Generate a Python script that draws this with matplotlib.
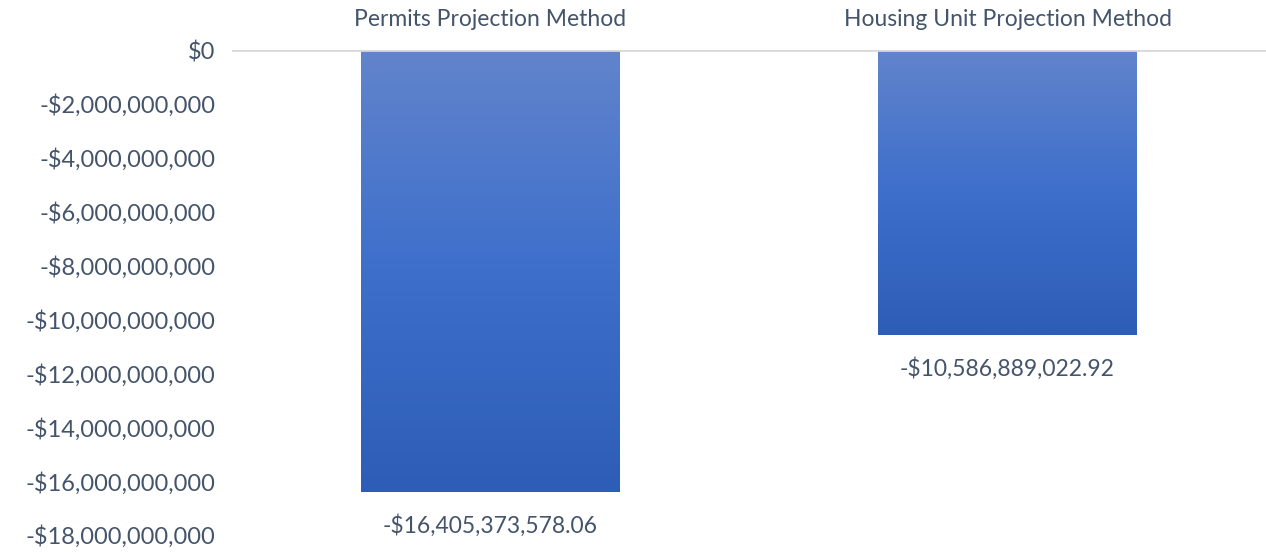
import numpy as np
import matplotlib.pyplot as plt
from matplotlib.colors import LinearSegmentedColormap
from matplotlib.ticker import FuncFormatter

categories = ['Permits Projection Method', 'Housing Unit Projection Method']
values = [-16405373578.06, -10586889022.92]
value_labels = ['-$16,405,373,578.06', '-$10,586,889,022.92']
yticks = np.arange(-18e9, 1, 2e9)

text_color = '#44546a'
plt.rcParams['font.family'] = ['Lato', 'DejaVu Sans']

fig = plt.figure(figsize=(12.66, 5.52), dpi=100)
ax = fig.add_axes([232 / 1266, 17 / 552, 1 - 232 / 1266, 485 / 552])

cmap = LinearSegmentedColormap.from_list('bar', ['#6284cc', '#3d6fcb', '#2d5db6'])
bars = ax.bar(range(len(values)), values, width=0.5, color='none', zorder=2)
grad = np.linspace(0, 1, 256).reshape(-1, 1)
for b in bars:
    x0, y0 = b.get_x(), b.get_y()
    w, h = b.get_width(), b.get_height()
    im = ax.imshow(grad, cmap=cmap, aspect='auto', zorder=2,
                   extent=[x0, x0 + w, y0 + h, y0], origin='upper')
    im.set_clip_path(b)

ax.axhline(0, color='#d9d9d9', lw=2, zorder=3)

for i, (v, lab) in enumerate(zip(values, value_labels)):
    ax.annotate(lab, (i, v), xytext=(0, -16), textcoords='offset points',
                ha='center', va='top', fontsize=16.5, color=text_color)
    ax.annotate(categories[i], (i, 0), xytext=(0, 22), textcoords='offset points',
                ha='center', va='center', fontsize=16.5, color=text_color)

ax.set_xlim(-0.5, 1.5)
ax.set_ylim(-18e9, 0)
ax.set_yticks(yticks)


def money(v, pos):
    if v == 0:
        return '$0'
    return '-${:,.0f}'.format(abs(v))


ax.yaxis.set_major_formatter(FuncFormatter(money))
ax.tick_params(axis='y', length=0, labelsize=17, labelcolor=text_color, pad=12)
ax.set_xticks([])
for s in ax.spines.values():
    s.set_visible(False)

plt.savefig('out.png', dpi=100)
